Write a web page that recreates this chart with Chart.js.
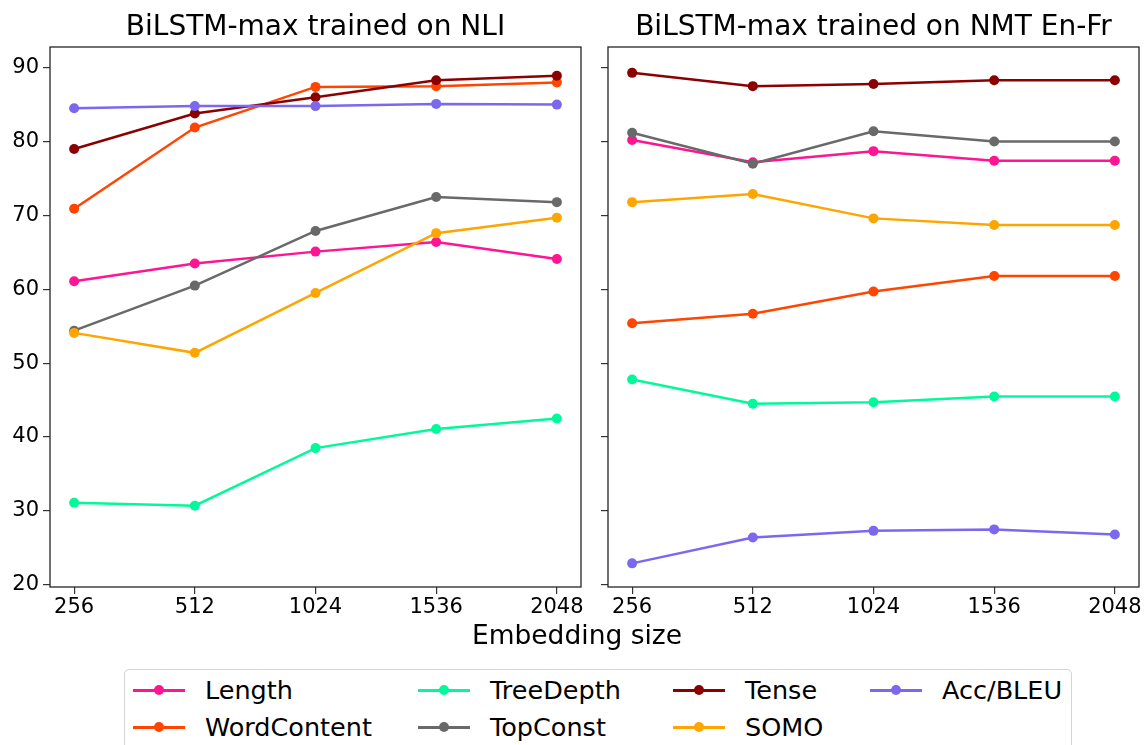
<!DOCTYPE html>
<html>
<head>
<meta charset="utf-8">
<script src="https://cdn.jsdelivr.net/npm/chart.js@4.4.0/dist/chart.umd.min.js"></script>
<style>
  body { margin: 0; background: #fff; width: 1146px; height: 745px; overflow: hidden; position: relative; font-family: 'DejaVu Sans'; }
  #c1 { position: absolute; left: 0; top: 0; }
  #c2 { position: absolute; left: 560px; top: 0; }
  #xlabel { position: absolute; left: 0; width: 1154px; top: 619px; text-align: center; font-size: 26.5px; color: #000; }
  #legend { position: absolute; left: 124px; top: 669px; width: 946px; height: 100px; border: 1px solid #d4d4d4; border-radius: 5px; }
  .item { position: absolute; font-size: 25.5px; color: #000; height: 30px; line-height: 30px; white-space: nowrap; }
  .handle { position: absolute; left: 0; top: 14px; width: 52px; height: 3px; }
  .dot { position: absolute; left: 21px; top: 10px; width: 10px; height: 10px; border-radius: 50%; }
  .label { position: absolute; left: 72px; top: 0; }
</style>
</head>
<body>
<canvas id="c1" width="590" height="620"></canvas>
<canvas id="c2" width="586" height="620"></canvas>
<div id="xlabel">Embedding size</div>
<div id="legend"></div>
<script>
// embedding sizes (x categories)
const sizes = ['256', '512', '1024', '1536', '2048'];
const yTicks = [20, 30, 40, 50, 60, 70, 80, 90];

const probes = ['Length', 'WordContent', 'TreeDepth', 'TopConst', 'Tense', 'SOMO', 'Acc/BLEU'];
const colors = ['#FF1493', '#FF4500', '#00FA9A', '#696969', '#8B0000', '#FFA500', '#7B68EE'];

// BiLSTM-max trained on NLI
const nliLength      = [61.1, 63.5, 65.1, 66.4, 64.1];
const nliWordContent = [70.9, 81.9, 87.4, 87.5, 88.0];
const nliTreeDepth   = [31.1, 30.7, 38.5, 41.1, 42.5];
const nliTopConst    = [54.4, 60.5, 67.9, 72.5, 71.8];
const nliTense       = [79.0, 83.8, 86.0, 88.3, 88.9];
const nliSOMO        = [54.1, 51.4, 59.5, 67.6, 69.7];
const nliAcc         = [84.5, 84.8, 84.8, 85.1, 85.0];

// BiLSTM-max trained on NMT En-Fr
const nmtLength      = [80.2, 77.2, 78.7, 77.4, 77.4];
const nmtWordContent = [55.4, 56.7, 59.7, 61.8, 61.8];
const nmtTreeDepth   = [47.8, 44.5, 44.7, 45.5, 45.5];
const nmtTopConst    = [81.2, 77.0, 81.4, 80.0, 80.0];
const nmtTense       = [89.3, 87.5, 87.8, 88.3, 88.3];
const nmtSOMO        = [71.8, 72.9, 69.6, 68.7, 68.7];
const nmtAcc         = [22.9, 26.4, 27.3, 27.5, 26.8];

const nliSeries = [nliLength, nliWordContent, nliTreeDepth, nliTopConst, nliTense, nliSOMO, nliAcc];
const nmtSeries = [nmtLength, nmtWordContent, nmtTreeDepth, nmtTopConst, nmtTense, nmtSOMO, nmtAcc];

const frame = {
  id: 'frame',
  afterDraw(chart) {
    const a = chart.chartArea, ctx = chart.ctx;
    ctx.save();
    ctx.strokeStyle = '#262626';
    ctx.lineWidth = 1.3;
    ctx.strokeRect(a.left, a.top, a.right - a.left, a.bottom - a.top);
    ctx.restore();
  }
};

function makePanel(id, title, series, showY, axisWidth, padRight) {
  const datasets = series.map(function(vals, i) {
    return {
      label: probes[i],
      data: vals.map(function(v, j) { return { x: j, y: v }; }),
      borderColor: colors[i],
      backgroundColor: colors[i],
      pointBackgroundColor: colors[i],
      pointBorderWidth: 0,
      pointRadius: 5,
      borderWidth: 2.5,
      tension: 0,
      order: probes.length - i
    };
  });
  new Chart(document.getElementById(id), {
    type: 'line',
    data: { datasets: datasets },
    plugins: [frame],
    options: {
      responsive: false,
      animation: false,
      layout: { padding: { left: 0, right: padRight, top: 0, bottom: 0 } },
      plugins: {
        legend: { display: false },
        tooltip: { enabled: false },
        title: {
          display: true,
          text: title,
          fullSize: false,
          color: '#000',
          font: { family: 'DejaVu Sans', size: 28, weight: 'normal' },
          padding: { top: 10.5, bottom: 2.9 }
        }
      },
      scales: {
        x: {
          type: 'linear',
          min: -0.2,
          max: 4.2,
          afterBuildTicks: function(s) { s.ticks = sizes.map(function(_, i) { return { value: i }; }); },
          afterFit: function(s) { s.height = 33; },
          ticks: {
            color: '#000',
            padding: 1,
            maxRotation: 0,
            font: { family: 'DejaVu Sans', size: 21 },
            callback: function(v) { return sizes[v]; }
          },
          grid: { drawOnChartArea: false, drawTicks: true, tickLength: 7, color: '#333', lineWidth: 1.2 },
          border: { display: false }
        },
        y: {
          min: 19.7,
          max: 92.8,
          afterBuildTicks: function(s) { s.ticks = yTicks.map(function(v) { return { value: v }; }); },
          afterFit: function(s) { s.width = axisWidth; },
          ticks: {
            color: '#000',
            padding: 4,
            font: { family: 'DejaVu Sans', size: 21 },
            callback: function(v) { return showY ? v : ''; }
          },
          grid: { drawOnChartArea: false, drawTicks: true, tickLength: 7, color: '#333', lineWidth: 1.2 },
          border: { display: false }
        }
      }
    }
  });
}

makePanel('c1', 'BiLSTM-max trained on NLI', nliSeries, true, 50, 9);
makePanel('c2', 'BiLSTM-max trained on NMT En-Fr', nmtSeries, false, 48, 7);

// legend, column-major in 4 columns of 2 rows
const colLeft = [8, 293, 548, 745];
const rowTop = [5, 42];
const legend = document.getElementById('legend');
probes.forEach(function(name, i) {
  const item = document.createElement('div');
  item.className = 'item';
  item.style.left = colLeft[Math.floor(i / 2)] + 'px';
  item.style.top = rowTop[i % 2] + 'px';
  item.innerHTML = '<div class="handle" style="background:' + colors[i] + '"></div>' +
    '<div class="dot" style="background:' + colors[i] + '"></div>' +
    '<div class="label">' + name + '</div>';
  legend.appendChild(item);
});
</script>
</body>
</html>
